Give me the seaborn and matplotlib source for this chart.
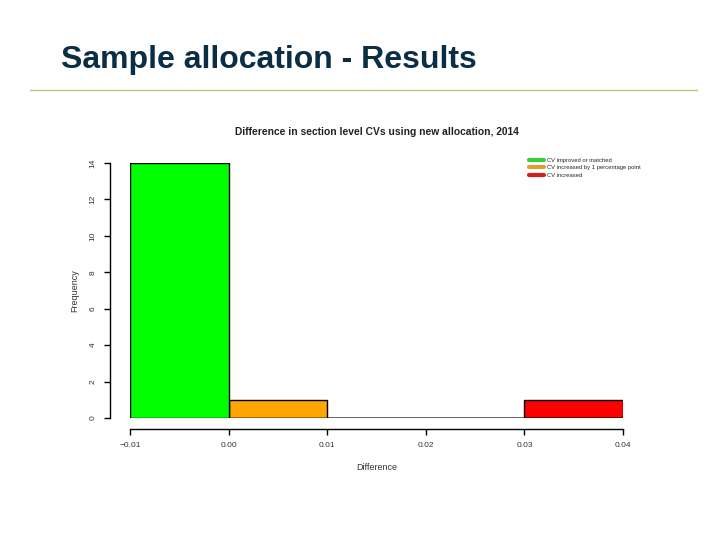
import matplotlib
matplotlib.use("Agg")
import matplotlib.pyplot as plt
from matplotlib.lines import Line2D
import seaborn as sns
import pandas as pd

# histogram of section-level CV differences (counts per bin)
bin_edges = [-0.01, 0.00, 0.01, 0.02, 0.03, 0.04]
bin_mids = [-0.005, 0.005, 0.015, 0.025, 0.035]
counts = [14, 1, 0, 0, 1]
groups = ["improved", "plus1", "empty", "empty", "increased"]

legend_labels = ["CV improved or matched",
                 "CV increased by 1 percentage point",
                 "CV increased"]
legend_colors = ["#3ec93e", "#e0a030", "#d02020"]

x_ticks = [-0.01, 0.00, 0.01, 0.02, 0.03, 0.04]
y_ticks = [0, 2, 4, 6, 8, 10, 12, 14]

palette = {"improved": "#00ff00", "plus1": "#ffa500",
           "empty": "#ffffff", "increased": "#ff0000"}

sns.set_style("white")
plt.rcParams['font.family'] = ['Liberation Sans', 'DejaVu Sans']

df = pd.DataFrame({"diff": bin_mids, "n": counts, "grp": groups})

fig = plt.figure(figsize=(7.2, 5.4), dpi=100)
fig.patch.set_facecolor("white")

# slide header
fig.text(61 / 720, 1 - 60 / 540, "Sample allocation - Results",
         fontsize=23, fontweight="bold", color="#0b2e44",
         ha="left", va="center")
fig.add_artist(Line2D([30 / 720, 697 / 720], [1 - 90 / 540, 1 - 90 / 540],
                      color="#b5c97a", linewidth=1))

ax = fig.add_axes([130 / 720, 122 / 540, 493 / 720, 255 / 540])
sns.histplot(data=df, x="diff", weights="n", hue="grp", bins=bin_edges,
             palette=palette, hue_order=["improved", "plus1", "empty", "increased"],
             multiple="layer", alpha=1, edgecolor="black", linewidth=1.0,
             legend=False, ax=ax)
ax.set_xlim(-0.01, 0.04)
ax.set_ylim(0, 14)
ax.margins(0)

# R style detached axes
for s in ["top", "right"]:
    ax.spines[s].set_visible(False)
ax.spines["left"].set_position(("outward", 14.4))
ax.spines["bottom"].set_position(("outward", 7.9))
ax.spines["left"].set_bounds(0, 14)
ax.spines["bottom"].set_bounds(-0.01, 0.04)
for s in ["left", "bottom"]:
    ax.spines[s].set_color("black")
    ax.spines[s].set_linewidth(1)

ax.set_xticks(x_ticks)
ax.set_xticklabels([f"{v:.2f}".replace("-", "\u2212") for v in x_ticks])
ax.set_yticks(y_ticks)
ax.set_yticklabels([str(v) for v in y_ticks], rotation=90, va="center")
ax.tick_params(axis="both", which="both", direction="out", length=4,
               width=1, color="black", labelsize=6, labelcolor="#333333",
               pad=5.5, bottom=True, left=True)

ax.set_xlabel("Difference", fontsize=6.5, color="#333333", labelpad=10)
ax.set_ylabel("Frequency", fontsize=6.5, color="#333333", labelpad=7.5)
ax.set_title("Difference in section level CVs using new allocation, 2014",
             fontsize=7.4, fontweight="bold", color="#222222", pad=20.5)

handles = [Line2D([0], [0], color=c, linewidth=3) for c in legend_colors]
leg = ax.legend(handles, legend_labels, loc="upper left",
                bbox_to_anchor=(0.805, 1.03), frameon=False, fontsize=4.2,
                handlelength=2.6, handletextpad=0.5, labelspacing=0.45,
                borderaxespad=0)

fig.savefig("out.png", dpi=100, facecolor="white")
